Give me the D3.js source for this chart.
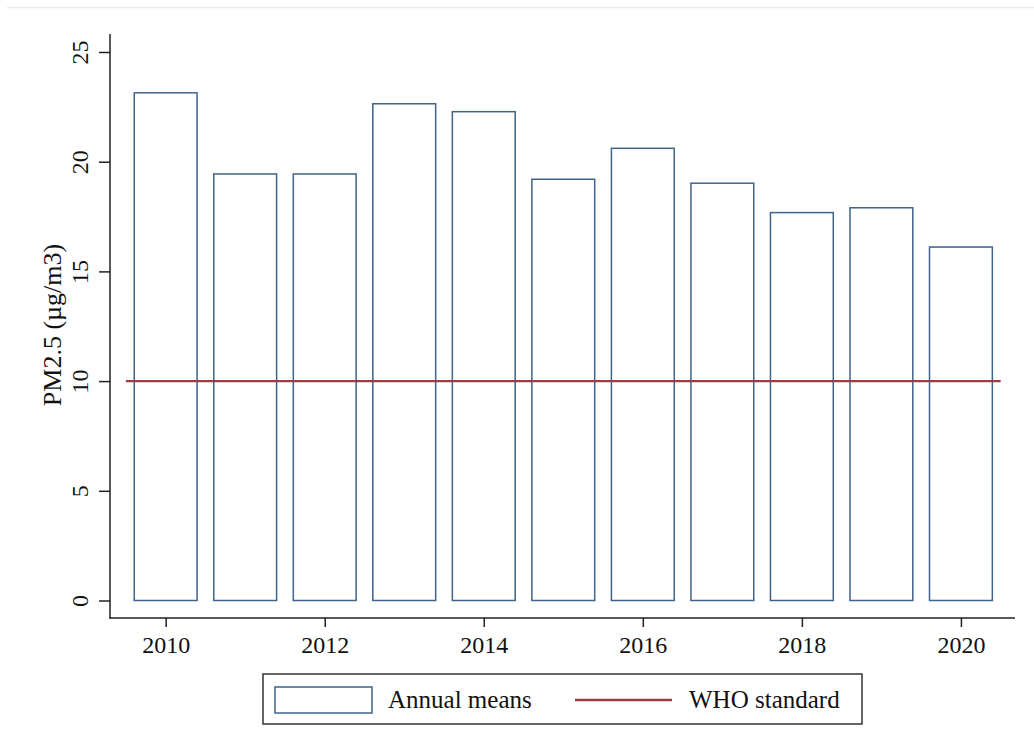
<!DOCTYPE html>
<html lang="en">
<head>
<meta charset="UTF-8">
<title>PM2.5 annual means</title>
<script src="https://d3js.org/d3.v7.min.js"></script>
<style>
  body { margin: 0; background: #fff; }
  text { font-family: "Liberation Serif", "Times New Roman", serif; fill: #111; }
</style>
</head>
<body>
<script>
  // values
  const years = [2010, 2011, 2012, 2013, 2014, 2015, 2016, 2017, 2018, 2019, 2020]
  const means = [23.14, 19.44, 19.44, 22.64, 22.28, 19.20, 20.61, 19.02, 17.68, 17.90, 16.11]
  const whoStandard = 10
  const yTicks = [0, 5, 10, 15, 20, 25]
  const xTicks = [2010, 2012, 2014, 2016, 2018, 2020]
  const legendLabels = ["Annual means", "WHO standard"]

  const W = 1034, H = 753
  const barColor = "#3f6389"
  const lineColor = "#9c3c43"
  const fontSize = 24

  const svg = d3.select("body").append("svg")
    .attr("width", W)
    .attr("height", H)

  // faint frame line at the top
  svg.append("line")
    .attr("x1", 7).attr("x2", W).attr("y1", 7.5).attr("y2", 7.5)
    .attr("stroke", "#e6ecec").attr("stroke-width", 1.5)

  const x = d3.scaleLinear().domain([2009.3, 2020.68]).range([110, 1015])
  const y = d3.scaleLinear().domain([0, 25]).range([600.5, 52])
  const barW = 0.79

  // axes
  const yAxis = svg.append("g")
    .attr("transform", "translate(110,0)")
    .call(d3.axisLeft(y).tickValues(yTicks).tickSize(11).tickPadding(0).tickFormat(d3.format("d")))
  yAxis.select(".domain").remove()
  yAxis.append("line")
    .attr("x1", 0).attr("x2", 0).attr("y1", 34).attr("y2", 618.5)
    .attr("stroke", "#222").attr("stroke-width", 1.5)
  yAxis.selectAll(".tick line").attr("stroke", "#222").attr("stroke-width", 1.5)
  yAxis.selectAll(".tick text")
    .attr("font-size", fontSize)
    .attr("text-anchor", "middle")
    .attr("x", 0).attr("dy", 0)
    .attr("transform", "translate(-22,0) rotate(-90)")
    .attr("y", 0)
    .style("fill", "#111")

  const xAxis = svg.append("g")
    .attr("transform", "translate(0,618)")
    .call(d3.axisBottom(x).tickValues(xTicks).tickSize(9).tickPadding(9).tickFormat(d3.format("d")))
  xAxis.select(".domain").remove()
  xAxis.append("line")
    .attr("x1", 109.25).attr("x2", 1015).attr("y1", 0).attr("y2", 0)
    .attr("stroke", "#222").attr("stroke-width", 1.5)
  xAxis.selectAll(".tick line").attr("stroke", "#222").attr("stroke-width", 1.5)
  xAxis.selectAll(".tick text").attr("font-size", fontSize).style("fill", "#111")

  svg.append("text")
    .attr("transform", "translate(61,325) rotate(-90)")
    .attr("text-anchor", "middle")
    .attr("font-size", 26)
    .text("PM2.5 (µg/m3)")

  // bars
  svg.append("g").selectAll("rect")
    .data(years.map((yr, i) => ({ yr: yr, v: means[i] })))
    .join("rect")
    .attr("x", d => x(d.yr - barW / 2))
    .attr("width", d => x(d.yr + barW / 2) - x(d.yr - barW / 2))
    .attr("y", d => y(d.v))
    .attr("height", d => y(0) - y(d.v))
    .attr("fill", "white")
    .attr("stroke", barColor)
    .attr("stroke-width", 1.5)

  // WHO line
  svg.append("line")
    .attr("x1", x(years[0] - 0.5)).attr("x2", x(years[years.length - 1] + 0.5))
    .attr("y1", y(whoStandard)).attr("y2", y(whoStandard))
    .attr("stroke", lineColor).attr("stroke-width", 2.4)

  // legend
  const lg = svg.append("g")
  lg.append("rect")
    .attr("x", 263).attr("y", 674).attr("width", 599).attr("height", 50)
    .attr("fill", "white").attr("stroke", "#333").attr("stroke-width", 1.5)
  lg.append("rect")
    .attr("x", 275).attr("y", 687).attr("width", 97).attr("height", 26)
    .attr("fill", "white").attr("stroke", barColor).attr("stroke-width", 1.5)
  lg.append("text").attr("x", 388).attr("y", 708).attr("font-size", 25).text(legendLabels[0])
  lg.append("line")
    .attr("x1", 575).attr("x2", 672).attr("y1", 700).attr("y2", 700)
    .attr("stroke", lineColor).attr("stroke-width", 2.4)
  lg.append("text").attr("x", 689).attr("y", 708).attr("font-size", 25).text(legendLabels[1])
</script>
</body>
</html>
